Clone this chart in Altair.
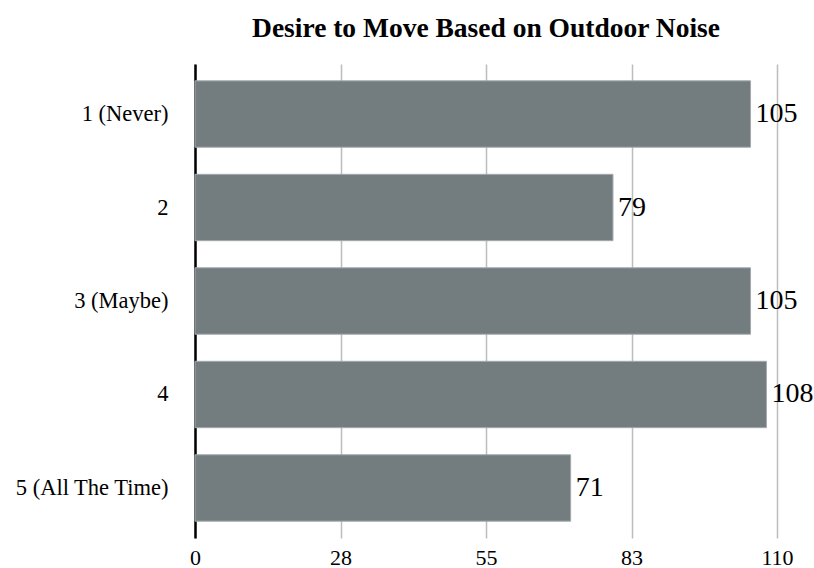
import altair as alt
import pandas as pd

# Survey responses: how often outdoor noise makes people want to move
answers = ["1 (Never)", "2", "3 (Maybe)", "4", "5 (All The Time)"]
counts = [105, 79, 105, 108, 71]
tick_values = [0, 27.5, 55, 82.5, 110]

df = pd.DataFrame({"answer": answers, "count": counts})

SERIF = "Liberation Serif"

x_enc = alt.X(
    "count:Q",
    title=None,
    scale=alt.Scale(domain=[0, 110], nice=False),
    axis=alt.Axis(
        values=tick_values,
        format=".0f",
        domain=False,
        ticks=False,
        grid=True,
        gridColor="#bdbdbd",
        gridWidth=1.5,
        labelFlush=False,
        labelPadding=9,
        labelFont=SERIF,
        labelFontSize=22,
        labelColor="#000000",
    ),
)

y_enc = alt.Y(
    "answer:N",
    sort=answers,
    title=None,
    scale=alt.Scale(paddingInner=0.29, paddingOuter=0.18),
    axis=alt.Axis(
        domain=True,
        domainColor="#000000",
        domainWidth=2.5,
        ticks=False,
        labelPadding=27,
        labelFont=SERIF,
        labelFontSize=22.5,
        labelColor="#000000",
        grid=False,
    ),
)

base = alt.Chart(df).encode(x=x_enc, y=y_enc)

bars = base.mark_bar(color="#737d80", stroke="#a3aaac", strokeWidth=1)

labels = base.mark_text(
    align="left", baseline="middle", dx=5, font=SERIF, fontSize=28, color="#000000"
).encode(text="count:Q")

chart = (
    alt.layer(bars, labels)
    .properties(
        width=582,
        height=474,
        background="#ffffff",
        title=alt.TitleParams(
            "Desire to Move Based on Outdoor Noise",
            font=SERIF,
            fontSize=27.5,
            fontWeight="bold",
            color="#000000",
            anchor="middle",
            offset=22,
        ),
        padding={"left": 195, "top": 64, "right": 37, "bottom": 30},
        autosize=alt.AutoSizeParams(type="none"),
    )
    .configure_view(stroke=None)
)

chart.save("out.html", embed_options={"renderer": "svg", "actions": False})
